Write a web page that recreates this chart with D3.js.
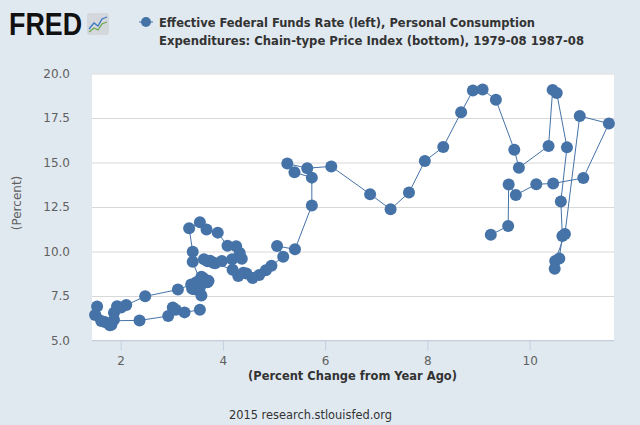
<!DOCTYPE html>
<html>
<head>
<meta charset="utf-8">
<script src="https://cdn.jsdelivr.net/npm/d3@7"></script>
<style>
  body { margin: 0; background: #e1e9f0; }
  svg { display: block; }
  text { font-family: "DejaVu Sans", Verdana, sans-serif; }
</style>
</head>
<body>
<script>
// monthly observations, 1979-08 .. 1987-08
const months = [
  "1979-08","1979-09","1979-10","1979-11","1979-12",
  "1980-01","1980-02","1980-03","1980-04","1980-05","1980-06","1980-07","1980-08","1980-09","1980-10","1980-11","1980-12",
  "1981-01","1981-02","1981-03","1981-04","1981-05","1981-06","1981-07","1981-08","1981-09","1981-10","1981-11","1981-12",
  "1982-01","1982-02","1982-03","1982-04","1982-05","1982-06","1982-07","1982-08","1982-09","1982-10","1982-11","1982-12",
  "1983-01","1983-02","1983-03","1983-04","1983-05","1983-06","1983-07","1983-08","1983-09","1983-10","1983-11","1983-12",
  "1984-01","1984-02","1984-03","1984-04","1984-05","1984-06","1984-07","1984-08","1984-09","1984-10","1984-11","1984-12",
  "1985-01","1985-02","1985-03","1985-04","1985-05","1985-06","1985-07","1985-08","1985-09","1985-10","1985-11","1985-12",
  "1986-01","1986-02","1986-03","1986-04","1986-05","1986-06","1986-07","1986-08","1986-09","1986-10","1986-11","1986-12",
  "1987-01","1987-02","1987-03","1987-04","1987-05","1987-06","1987-07","1987-08"
];

// Effective Federal Funds Rate (left axis)
const fedFunds = [
  10.94, 11.43, 13.77, 13.18, 13.78,
  13.82, 14.13, 17.19, 17.61, 10.98, 9.47, 9.03, 9.61, 10.87, 12.81, 15.85, 18.90,
  19.08, 15.93, 14.70, 15.72, 18.52, 19.10, 19.04, 17.82, 15.87, 15.08, 13.31, 12.37,
  13.22, 14.78, 14.68, 14.94, 14.45, 14.15, 12.59, 10.12, 10.31, 9.71, 9.20, 8.95,
  8.68, 8.51, 8.77, 8.80, 8.63, 8.98, 9.37, 9.56, 9.45, 9.48, 9.34, 9.47,
  9.56, 9.59, 9.91, 10.29, 10.32, 11.06, 11.23, 11.64, 11.30, 9.99, 9.43, 8.38,
  8.35, 8.50, 8.58, 8.27, 7.97, 7.53, 7.88, 7.90, 7.92, 7.99, 8.05, 8.27,
  8.14, 7.86, 7.48, 6.99, 6.85, 6.92, 6.56, 6.17, 5.89, 5.85, 6.04, 6.91,
  6.43, 6.10, 6.13, 6.37, 6.85, 6.73, 6.58, 6.73
];

// PCE chain-type price index, percent change from year ago (bottom axis)
const pceChange = [
  9.24, 9.58, 9.59, 9.73, 10.13,
  10.46, 11.05, 11.55, 10.98, 10.69, 10.50, 10.49, 10.58, 10.64, 10.61, 10.73, 10.53,
  10.45, 10.37, 9.79, 9.70, 9.34, 9.08, 8.89, 8.66, 8.31, 7.95, 7.64, 7.28,
  6.88, 6.12, 5.65, 5.26, 5.40, 5.74, 5.74, 5.41, 5.06, 5.18, 4.95, 4.84,
  4.71, 4.58, 4.46, 4.40, 4.30, 4.19, 3.81, 3.63, 3.70, 3.75, 3.85, 3.98,
  4.18, 4.37, 4.33, 4.26, 4.09, 3.90, 3.68, 3.55, 3.34, 3.41, 3.41, 3.55,
  3.72, 3.62, 3.58, 3.70, 3.55, 3.58, 3.45, 3.40, 3.50, 3.42, 3.52, 3.48,
  3.38, 3.12, 2.48, 2.11, 2.01, 1.93, 1.87, 1.87, 1.82, 1.79, 1.69, 1.54,
  1.50, 1.62, 2.37, 2.93, 3.02, 3.08, 3.25, 3.55
];

const yTicks = [5, 7.5, 10, 12.5, 15, 17.5, 20];
const xTicks = [2, 4, 6, 8, 10];

const legendLines = [
  "Effective Federal Funds Rate (left), Personal Consumption",
  "Expenditures: Chain-type Price Index (bottom), 1979-08 1987-08"
];
const legendWidths = [376, 425];

const width = 640, height = 425;
const plot = {left: 92, right: 614, top: 73.5, bottom: 340.5};
const blue = "#4572a7";

const data = months.map((m, i) => ({date: m, x: pceChange[i], y: fedFunds[i]}));

const x = d3.scaleLinear().domain([1.44, 11.65]).range([plot.left, plot.right]);
const y = d3.scaleLinear().domain([5, 20]).range([plot.bottom, plot.top]);

const svg = d3.select("body").append("svg")
    .attr("width", width)
    .attr("height", height);

svg.append("rect")
    .attr("width", width).attr("height", height)
    .attr("fill", "#e1e9f0");

svg.append("rect")
    .attr("x", plot.left).attr("y", plot.top)
    .attr("width", plot.right - plot.left)
    .attr("height", plot.bottom - plot.top)
    .attr("fill", "#fff");

// horizontal grid + left labels
const yAxis = d3.axisLeft(y)
    .tickValues(yTicks)
    .tickSize(-(plot.right - plot.left))
    .tickPadding(22)
    .tickFormat(d3.format(".1f"));

const gy = svg.append("g")
    .attr("transform", "translate(" + plot.left + ",0)")
    .call(yAxis);
gy.select(".domain").remove();
gy.selectAll(".tick line").attr("stroke", "#d8d8d8").attr("stroke-width", 1);
gy.selectAll(".tick text")
    .attr("fill", "#606060")
    .style("font-size", "12px");

// bottom axis
const xAxis = d3.axisBottom(x)
    .tickValues(xTicks)
    .tickSize(10)
    .tickPadding(6)
    .tickFormat(d3.format("d"));

const gx = svg.append("g")
    .attr("transform", "translate(0," + plot.bottom + ")")
    .call(xAxis);
gx.select(".domain")
    .attr("d", "M" + plot.left + ",0H" + plot.right)
    .attr("stroke", "#c0d0e0");
gx.selectAll(".tick line").attr("stroke", "#c0d0e0");
gx.selectAll(".tick text")
    .attr("fill", "#606060")
    .style("font-size", "12px");

// axis titles
svg.append("text")
    .attr("x", 352.5)
    .attr("y", 380)
    .attr("text-anchor", "middle")
    .attr("textLength", 209)
    .attr("lengthAdjust", "spacingAndGlyphs")
    .attr("fill", "#333")
    .style("font-size", "12px")
    .style("font-weight", "bold")
    .text("(Percent Change from Year Ago)");

svg.append("text")
    .attr("transform", "translate(21,203) rotate(-90)")
    .attr("text-anchor", "middle")
    .attr("fill", "#606060")
    .style("font-size", "12px")
    .text("(Percent)");

// connected scatter
const line = d3.line().x(d => x(d.x)).y(d => y(d.y));

svg.append("path")
    .datum(data)
    .attr("fill", "none")
    .attr("stroke", blue)
    .attr("stroke-width", 1)
    .attr("d", line);

svg.append("g")
  .selectAll("circle")
  .data(data)
  .enter().append("circle")
    .attr("cx", d => x(d.x))
    .attr("cy", d => y(d.y))
    .attr("r", 6)
    .attr("fill", blue)
  .append("title")
    .text(d => d.date + ": " + d.x + ", " + d.y);

// legend
svg.append("line")
    .attr("x1", 139).attr("x2", 153)
    .attr("y1", 22).attr("y2", 22)
    .attr("stroke", blue).attr("stroke-width", 1);
svg.append("circle")
    .attr("cx", 146).attr("cy", 22).attr("r", 5)
    .attr("fill", blue);

svg.append("g").selectAll("text")
  .data(legendLines)
  .enter().append("text")
    .attr("x", 159)
    .attr("y", (d, i) => 27 + i * 18)
    .attr("textLength", (d, i) => legendWidths[i])
    .attr("lengthAdjust", "spacingAndGlyphs")
    .attr("fill", "#333")
    .style("font-size", "12px")
    .style("font-weight", "bold")
    .text(d => d);

// FRED logo
svg.append("text")
    .attr("x", 9).attr("y", 35)
    .attr("textLength", 73)
    .attr("lengthAdjust", "spacingAndGlyphs")
    .attr("fill", "#111")
    .style("font-family", "'Liberation Sans', Arial, sans-serif")
    .style("font-size", "31px")
    .style("font-weight", "bold")
    .text("FRED");

const icon = svg.append("g").attr("transform", "translate(87,13)");
icon.append("rect")
    .attr("width", 22).attr("height", 22).attr("rx", 2)
    .attr("fill", "#d4d8dc");
icon.append("polyline")
    .attr("points", "2,16 7,10 11,13 15,6 20,4")
    .attr("fill", "none").attr("stroke", "#3b78c2").attr("stroke-width", 1.3);
icon.append("polyline")
    .attr("points", "2,19 7,15 11,17 15,11 20,9")
    .attr("fill", "none").attr("stroke", "#6aa84f").attr("stroke-width", 1.3);

// footer
svg.append("text")
    .attr("x", 310.5).attr("y", 419)
    .attr("text-anchor", "middle")
    .attr("textLength", 163)
    .attr("lengthAdjust", "spacingAndGlyphs")
    .attr("fill", "#333")
    .style("font-size", "12px")
    .text("2015 research.stlouisfed.org");
</script>
</body>
</html>
